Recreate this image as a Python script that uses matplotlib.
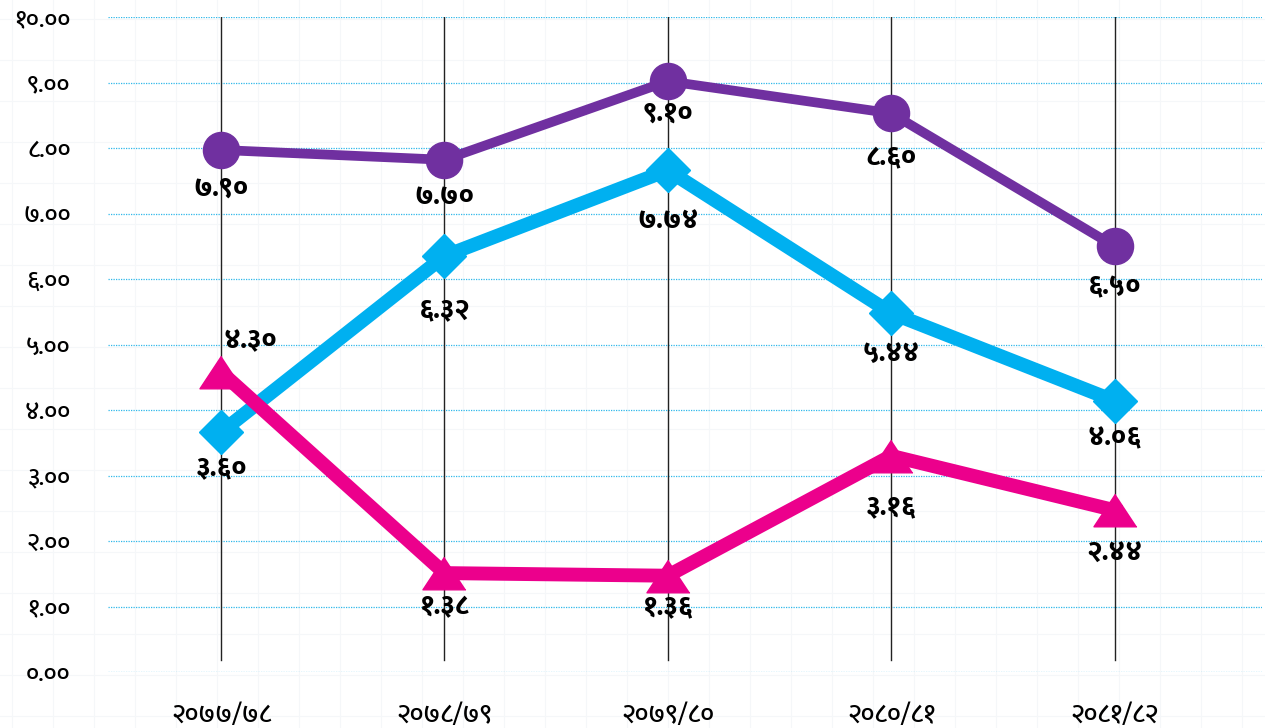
import numpy as np
import matplotlib
matplotlib.use('Agg')
import matplotlib.pyplot as plt

plt.rcParams['font.family'] = ['Ek Mukta', 'Noto Sans Devanagari', 'DejaVu Sans']

# data
years = ['२०७७/७८', '२०७८/७९', '२०७९/८०', '२०८०/८१', '२०८१/८२']
purple_vals = [7.97, 7.82, 9.02, 8.53, 6.50]
cyan_vals = [3.66, 6.35, 7.66, 5.48, 4.14]
pink_vals = [4.58, 1.51, 1.47, 3.30, 2.47]
purple_lbl = ['७.९०', '७.७०', '९.१०', '८.६०', '६.५०']
cyan_lbl = ['३.६०', '६.३२', '७.७४', '५.४४', '४.०६']
pink_lbl = ['४.३०', '१.३८', '१.३६', '३.१६', '२.४४']
yticks = [0, 1, 2, 3, 4, 5, 6, 7, 8, 9, 10]
ytick_lbl = ['०.००', '१.००', '२.००', '३.००', '४.००', '५.००', '६.००', '७.००', '८.००', '९.००', '१०.००']

# label offsets in points (dx, dy)
purple_off = [(0, -28), (0, -27), (0, -24), (0, -33), (0, -30)]
cyan_off = [(0, -26), (0, -39), (0, -37), (0, -30), (0, -27)]
pink_off = [(21, 22), (0, -25), (0, -23), (0, -37), (0, -32)]

fig = plt.figure(figsize=(12.65, 7.28), dpi=100)
ax = fig.add_axes([108 / 1265, 1 - 672 / 728, (1262 - 108) / 1265, (672 - 17) / 728])

# faint page grid in the background
for gx in np.arange(12, 1265, 41):
    fig.add_artist(plt.Line2D([gx / 1265, gx / 1265], [0, 1], color='#f5f7f9', lw=0.8, zorder=-10))
for gy in np.arange(12, 728, 41):
    fig.add_artist(plt.Line2D([0, 1], [gy / 728, gy / 728], color='#f5f7f9', lw=0.8, zorder=-10))

x = np.arange(len(years))

for yv in yticks:
    ax.axhline(yv, color='#2fb8ea', lw=0.9, ls=(0, (1, 1)), zorder=1)
for xv in x:
    ax.plot([xv, xv], [0.18, 10], color='#222222', lw=1.0, zorder=1)

tri = [(0, 0.5), (-0.66, -0.5), (0.66, -0.5)]

ax.plot(x, purple_vals, color='#7030a0', lw=7, marker='o', ms=26, zorder=3,
        solid_capstyle='round', solid_joinstyle='round')
ax.plot(x, cyan_vals, color='#00b0f0', lw=10, marker='D', ms=22, zorder=4,
        solid_joinstyle='miter')
ax.plot(x, pink_vals, color='#ec008c', lw=10, marker=tri, ms=31, zorder=5,
        solid_joinstyle='miter')

for vals, lbls, offs in [(purple_vals, purple_lbl, purple_off),
                         (cyan_vals, cyan_lbl, cyan_off),
                         (pink_vals, pink_lbl, pink_off)]:
    for xi, v, s, o in zip(x, vals, lbls, offs):
        ax.annotate(s, (xi, v), xytext=o, textcoords='offset points',
                    ha='center', va='center', fontsize=20, fontweight='heavy',
                    color='black', zorder=6)

ax.set_xlim(-0.506, 4.66)
ax.set_ylim(0, 10)
ax.set_yticks(yticks)
ax.set_yticklabels(ytick_lbl, fontsize=18, fontweight='medium')
ax.set_xticks(x)
ax.set_xticklabels(years, fontsize=19, fontweight='medium')
ax.tick_params(axis='y', length=0, pad=27)
ax.tick_params(axis='x', length=0, pad=22)
for s in ax.spines.values():
    s.set_visible(False)
ax.patch.set_alpha(0)

fig.savefig('out.png', dpi=100)
